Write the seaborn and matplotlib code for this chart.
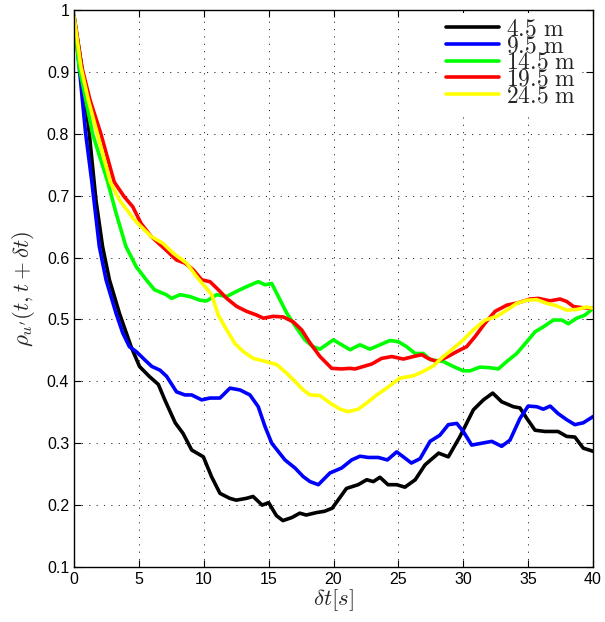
import numpy as np
import pandas as pd
import matplotlib
matplotlib.use("Agg")
import matplotlib.pyplot as plt
import seaborn as sns
from matplotlib.lines import Line2D

# Distancias y colores (estilo MATLAB)
labels = ["4.5 m", "9.5 m", "14.5 m", "19.5 m", "24.5 m"]
colors = ["#000000", "#0000ff", "#00ff00", "#ff0000", "#ffff00"]

# 4.5 m
t_45 = [0, 0.6, 1.18, 1.69, 2.2, 2.73, 3.5, 4.4, 5.05, 5.8, 6.5, 7.0, 7.8, 8.4, 9.07,
        9.97, 10.6, 11.25, 12.0, 12.5, 13.3, 13.8, 14.5, 15.0, 15.6, 16.1, 16.8, 17.4,
        17.9, 18.7, 19.3, 19.9, 21.0, 21.9, 22.56, 23.07, 23.58, 24.2, 24.87, 25.5,
        26.3, 27.05, 28.1, 28.85, 29.75, 30.78, 31.55, 32.27, 32.96, 33.86, 34.37,
        34.9, 35.53, 36.3, 37.3, 37.97, 38.6, 39.25, 40]
rho_45 = [0.99, 0.908, 0.80, 0.693, 0.618, 0.564, 0.51, 0.456, 0.424, 0.408, 0.395,
          0.37, 0.333, 0.316, 0.289, 0.278, 0.246, 0.219, 0.211, 0.208, 0.211, 0.214,
          0.200, 0.204, 0.183, 0.175, 0.180, 0.187, 0.184, 0.188, 0.19, 0.195, 0.227,
          0.233, 0.241, 0.238, 0.245, 0.233, 0.233, 0.229, 0.241, 0.265, 0.284, 0.278,
          0.311, 0.354, 0.370, 0.381, 0.367, 0.359, 0.357, 0.340, 0.321, 0.319, 0.319,
          0.311, 0.310, 0.292, 0.287]

# 9.5 m
t_95 = [0, 0.4, 0.9, 1.36, 1.95, 2.47, 3.24, 3.76, 4.27, 4.8, 5.44, 6.0, 6.63, 7.14,
        7.9, 8.55, 9.07, 9.84, 10.48, 11.25, 12.02, 12.8, 13.56, 14.2, 14.72, 15.24,
        16.26, 17.03, 17.67, 18.19, 18.83, 19.73, 20.63, 21.4, 22.04, 22.68, 23.45,
        24.15, 24.87, 25.38, 26.0, 26.67, 27.44, 28.2, 28.85, 29.5, 30.0, 30.65, 31.42,
        32.2, 32.96, 33.6, 34.37, 35.0, 35.66, 36.17, 36.7, 37.3, 37.97, 38.6, 39.25, 40]
rho_95 = [0.99, 0.908, 0.80, 0.725, 0.618, 0.564, 0.51, 0.478, 0.456, 0.448, 0.435,
          0.424, 0.418, 0.408, 0.383, 0.378, 0.378, 0.370, 0.373, 0.373, 0.389, 0.386,
          0.378, 0.359, 0.327, 0.300, 0.273, 0.260, 0.246, 0.238, 0.233, 0.252, 0.260,
          0.273, 0.279, 0.277, 0.277, 0.273, 0.286, 0.278, 0.268, 0.275, 0.303, 0.313,
          0.330, 0.332, 0.319, 0.297, 0.300, 0.303, 0.295, 0.305, 0.340, 0.360, 0.359,
          0.355, 0.360, 0.348, 0.338, 0.330, 0.333, 0.343]

# 14.5 m
t_145 = [0, 0.4, 1.43, 2.6, 3.24, 4.0, 4.8, 5.57, 6.2, 7.1, 7.53, 8.17, 8.94, 9.71,
         10.23, 11.0, 11.77, 12.5, 13.3, 14.2, 14.72, 15.24, 15.75, 16.4, 17.16, 17.8,
         18.4, 18.96, 19.98, 20.63, 21.27, 22.04, 22.8, 23.58, 24.35, 25.0, 25.64,
         26.28, 26.92, 27.44, 28.46, 29.23, 30.0, 30.52, 31.29, 32.06, 32.7, 33.35,
         34.12, 34.9, 35.53, 36.17, 36.94, 37.6, 38.1, 38.74, 39.38, 40]
rho_145 = [0.99, 0.908, 0.80, 0.722, 0.672, 0.618, 0.585, 0.564, 0.548, 0.540, 0.534,
           0.540, 0.537, 0.531, 0.530, 0.540, 0.537, 0.545, 0.553, 0.561, 0.556, 0.558,
           0.537, 0.510, 0.486, 0.467, 0.456, 0.452, 0.467, 0.459, 0.451, 0.459, 0.452,
           0.459, 0.466, 0.464, 0.456, 0.445, 0.445, 0.435, 0.432, 0.424, 0.417, 0.417,
           0.423, 0.422, 0.420, 0.432, 0.445, 0.464, 0.480, 0.488, 0.499, 0.499, 0.493,
           0.502, 0.507, 0.518]

# 19.5 m
t_195 = [0, 0.6, 1.23, 2.07, 3.1, 3.88, 4.53, 5.17, 5.95, 7.1, 7.9, 8.55, 9.2, 9.84,
         10.48, 11.12, 11.77, 12.54, 13.31, 14.08, 14.59, 15.36, 16.13, 16.9, 17.55,
         18.19, 18.96, 19.86, 20.63, 21.27, 21.66, 22.3, 22.95, 23.7, 24.49, 25.38,
         26.15, 26.8, 27.3, 27.95, 28.72, 29.5, 30.26, 30.9, 31.68, 32.45, 33.35, 34.24,
         35.14, 35.8, 36.69, 37.46, 37.97, 38.48, 39.13, 40]
rho_195 = [0.99, 0.908, 0.855, 0.80, 0.722, 0.698, 0.682, 0.655, 0.634, 0.612, 0.596,
           0.591, 0.580, 0.564, 0.561, 0.548, 0.534, 0.521, 0.513, 0.507, 0.502, 0.505,
           0.504, 0.496, 0.483, 0.462, 0.440, 0.421, 0.420, 0.421, 0.420, 0.424, 0.428,
           0.437, 0.440, 0.436, 0.440, 0.443, 0.437, 0.432, 0.439, 0.448, 0.456, 0.472,
           0.494, 0.513, 0.523, 0.527, 0.533, 0.534, 0.530, 0.533, 0.529, 0.521, 0.519,
           0.518]

# 24.5 m
t_245 = [0, 0.53, 1.1, 1.8, 2.8, 3.5, 4.65, 5.17, 5.95, 6.85, 7.65, 8.68, 9.45, 10.1,
         10.61, 11.12, 11.77, 12.4, 13.05, 13.82, 14.59, 15.62, 16.4, 17.03, 17.67,
         18.19, 18.96, 19.73, 20.5, 21.14, 21.9, 22.56, 23.33, 24.1, 25.1, 26.15, 26.92,
         27.7, 28.46, 29.23, 30.0, 30.78, 31.68, 32.58, 33.35, 34.12, 34.9, 35.66, 36.43,
         37.2, 37.97, 38.74, 39.5, 40]
rho_245 = [0.99, 0.908, 0.855, 0.80, 0.722, 0.693, 0.661, 0.650, 0.634, 0.623, 0.607,
           0.591, 0.569, 0.553, 0.540, 0.507, 0.483, 0.461, 0.448, 0.437, 0.433, 0.427,
           0.413, 0.400, 0.386, 0.378, 0.377, 0.365, 0.355, 0.351, 0.355, 0.365, 0.378,
           0.389, 0.405, 0.409, 0.416, 0.425, 0.440, 0.453, 0.467, 0.483, 0.499, 0.505,
           0.515, 0.526, 0.531, 0.532, 0.526, 0.522, 0.515, 0.516, 0.520, 0.518]

series_t = [t_45, t_95, t_145, t_195, t_245]
series_rho = [rho_45, rho_95, rho_145, rho_195, rho_245]

# Tabla larga para seaborn
frames = []
for lab, t, r in zip(labels, series_t, series_rho):
    frames.append(pd.DataFrame({"t": t, "rho": r, "dist": lab}))
df = pd.concat(frames, ignore_index=True)

sns.set_style("ticks")
plt.rcParams["font.family"] = ["Liberation Sans", "DejaVu Sans"]
plt.rcParams["mathtext.fontset"] = "cm"
plt.rcParams["lines.scale_dashes"] = False

fig = plt.figure(figsize=(6.05, 6.22), dpi=100)
ax = fig.add_axes([0.1223, 0.0884, 0.8579, 0.8956])

sns.lineplot(data=df, x="t", y="rho", hue="dist", hue_order=labels, palette=colors,
             sort=False, estimator=None, lw=2.6, legend=False, ax=ax)

ax.set_xlim(0, 40)
ax.set_ylim(0.1, 1)
ax.set_xticks(np.arange(0, 41, 5))
yt = [0.1, 0.2, 0.3, 0.4, 0.5, 0.6, 0.7, 0.8, 0.9, 1.0]
ax.set_yticks(yt)
ax.set_yticklabels(["0.1", "0.2", "0.3", "0.4", "0.5", "0.6", "0.7", "0.8", "0.9", "1"])
ax.tick_params(direction="in", top=True, right=True, length=5, width=0.8,
               labelsize=11.5, colors="black")
ax.grid(True, color="black", linestyle=(0, (0.8, 4.5)), linewidth=0.6)
for sp in ax.spines.values():
    sp.set_visible(True)
    sp.set_color("black")
    sp.set_linewidth(1.0)

ax.set_xlabel(r"$\delta t[s]$", fontsize=16.5, labelpad=0)
ax.set_ylabel(r"$\rho_{u'}(t,t+\delta t)$", fontsize=16.5, labelpad=7)

handles = [Line2D([], [], color=c, lw=2.6) for c in colors]
leg_labels = [r"$\mathrm{%s}$" % l.replace(" ", r"\ ") for l in labels]
ax.legend(handles, leg_labels, loc="upper right", bbox_to_anchor=(0.983, 1.0),
          fontsize=17, frameon=True, framealpha=1, edgecolor="none", fancybox=False,
          handlelength=2.25, labelspacing=-0.22, borderaxespad=0.15,
          handletextpad=0.3, borderpad=0.2)

fig.savefig("out.png", dpi=100)
